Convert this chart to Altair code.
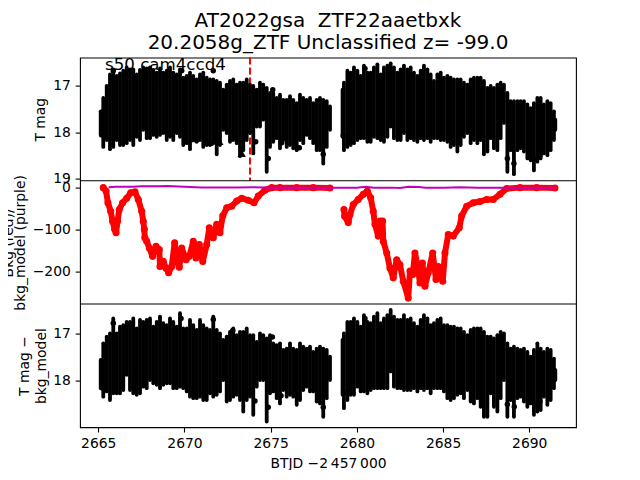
import altair as alt
import pandas as pd

# --- times of the envelope samples ---
t_a = [2665.14,2665.29,2665.49,2665.68,2665.87,2666.07,2666.26,2666.45,2666.65,2666.84,
       2667.03,2667.23,2667.42,2667.61,2667.81,2668.00,2668.19,2668.39,2668.58,2668.77,
       2668.97,2669.16,2669.35,2669.55,2669.74,2669.93,2670.13,2670.32,2670.51,2670.71,
       2670.90,2671.09,2671.29,2671.48,2671.67,2671.87,2672.06,2672.25,2672.45,2672.64,
       2672.83,2673.03,2673.22,2673.41,2673.61,2673.80,2673.99,2674.19,2674.38,2674.57,
       2674.77,2674.96,2675.15,2675.35,2675.54,2675.73,2675.93,2676.12,2676.31,2676.51,
       2676.70,2676.89,2677.09,2677.28,2677.47,2677.67,2677.86,2678.05,2678.25,2678.44]
t_b = [2679.17,2679.25,2679.45,2679.64,2679.83,2680.03,2680.22,2680.41,2680.61,2680.80,
       2680.99,2681.19,2681.38,2681.57,2681.77,2681.96,2682.15,2682.35,2682.54,2682.73,
       2682.93,2683.12,2683.31,2683.51,2683.70,2683.89,2684.09,2684.28,2684.47,2684.67,
       2684.86,2685.05,2685.25,2685.44,2685.63,2685.83,2686.02,2686.21,2686.41,2686.60,
       2686.79,2686.99,2687.18,2687.37,2687.57,2687.76,2687.95,2688.15,2688.34,2688.53,
       2688.73,2688.92,2689.11,2689.31,2689.50,2689.69,2689.89,2690.08,2690.27,2690.47,
       2690.66,2690.85,2691.05,2691.24,2691.43,2691.51]

# --- T mag: bright and faint ends of the error bars ---
mag_hi_a = [17.55,17.26,17.00,16.75,16.64,16.78,16.73,16.67,16.60,16.64,
            16.64,16.75,16.65,16.60,16.62,16.60,16.65,16.71,16.62,16.71,
            16.67,16.60,16.71,16.75,16.64,16.82,16.78,16.71,16.78,16.86,
            16.75,16.71,16.82,16.86,16.86,16.89,16.93,17.08,16.97,16.89,
            16.86,16.97,16.93,16.93,16.86,16.97,17.00,17.08,16.93,16.97,
            17.04,17.15,17.15,17.26,17.19,17.30,17.30,17.22,17.30,17.37,
            17.19,17.26,17.30,17.26,17.37,17.30,17.26,17.30,17.33,17.44]
mag_lo_a = [18.06,18.32,18.17,18.37,18.32,18.17,18.28,18.28,18.24,18.17,
            18.28,18.10,18.17,17.95,18.13,18.13,18.06,18.10,18.06,18.02,
            18.17,18.10,18.17,18.02,18.10,18.28,18.24,18.37,18.17,18.21,
            18.17,18.32,18.28,18.28,18.24,18.48,18.28,17.95,18.02,18.21,
            18.17,18.24,18.52,18.39,18.17,18.02,18.46,17.88,17.88,17.73,
            18.86,18.32,18.21,18.13,18.35,18.17,18.32,18.28,18.35,18.39,
            18.17,18.24,18.06,18.13,18.24,18.39,18.39,18.68,18.32,17.95]
mag_hi_b = [17.08,16.93,16.67,16.71,16.60,16.67,16.78,16.56,16.71,16.71,
            16.60,16.53,16.75,16.60,16.56,16.51,16.60,16.71,16.64,16.56,
            16.64,16.60,16.71,16.78,16.67,16.56,16.64,16.75,16.89,16.75,
            16.71,16.82,16.78,16.82,16.86,16.86,16.86,16.93,16.97,16.86,
            16.82,16.82,16.82,16.89,17.04,17.00,17.04,16.97,16.93,16.97,
            17.15,17.33,17.33,17.33,17.33,17.33,17.40,17.48,17.37,17.26,
            17.26,17.40,17.33,17.37,17.55,17.73]
mag_lo_b = [18.10,18.39,18.32,18.28,18.24,18.17,18.13,18.13,18.21,18.21,
            18.10,18.13,18.17,18.21,18.10,17.88,18.13,18.17,18.17,18.02,
            18.17,18.13,18.17,18.21,18.13,18.17,18.13,18.21,18.13,18.13,
            18.17,18.17,18.21,18.32,18.28,18.42,18.28,18.10,18.02,18.24,
            18.17,18.24,18.17,18.48,18.42,18.13,18.35,18.39,18.13,17.80,
            18.86,18.39,18.91,18.39,18.35,18.42,18.57,18.61,18.83,18.64,
            18.57,18.46,18.50,18.39,18.17,17.95]

# --- T mag - bkg_model ---
sub_hi_a = [17.56,17.21,17.07,17.00,16.69,17.00,16.86,16.83,16.76,16.76,
            16.69,16.90,16.72,16.76,16.72,16.69,16.86,16.76,16.65,16.79,
            16.83,16.69,16.76,16.86,16.58,16.90,16.90,16.72,16.83,16.93,
            16.72,16.83,16.90,16.93,16.65,16.93,17.00,17.14,17.07,16.97,
            16.90,17.04,16.97,16.97,16.90,17.04,17.04,17.18,17.00,17.04,
            17.11,17.04,17.21,17.25,17.21,17.35,17.32,17.21,17.32,17.35,
            17.21,17.28,17.32,17.28,17.39,17.32,17.28,17.32,17.35,17.49]
sub_lo_a = [18.15,18.33,18.22,18.40,18.26,18.26,18.26,18.19,17.87,18.19,
            18.26,18.29,18.26,18.12,18.15,17.98,18.05,18.08,18.15,18.08,
            18.05,18.05,18.15,18.15,18.12,18.15,18.22,18.33,18.36,18.36,
            18.33,18.40,18.40,18.26,18.33,18.29,18.22,17.98,18.43,18.40,
            18.33,18.29,18.40,18.64,18.40,18.33,18.71,18.12,17.98,17.98,
            18.85,18.26,18.22,18.36,18.47,18.19,18.33,18.29,18.33,18.50,
            18.40,18.19,18.12,18.22,18.22,18.43,18.47,18.75,18.36,17.98]
sub_hi_b = [17.14,17.00,16.76,16.76,16.69,16.76,16.86,16.62,16.76,16.79,
            16.65,16.58,16.79,16.69,16.62,16.51,16.65,16.72,16.72,16.62,
            16.72,16.69,16.79,16.86,16.72,16.62,16.69,16.83,16.79,16.72,
            16.69,16.83,16.83,16.86,16.86,16.90,16.90,16.97,17.04,16.93,
            16.90,16.90,16.90,16.97,17.07,17.07,17.11,17.04,16.97,17.00,
            17.21,17.32,17.28,17.32,17.35,17.32,17.39,17.49,17.35,17.21,
            17.32,17.39,17.32,17.35,17.53,17.77]
sub_lo_b = [18.29,18.57,18.40,18.29,18.29,18.12,18.22,18.22,18.26,18.19,
            18.15,18.15,18.15,18.15,18.15,17.80,18.12,18.15,18.15,18.19,
            18.19,18.19,18.15,18.22,18.15,18.19,18.15,18.26,18.15,18.15,
            18.15,18.22,18.36,18.40,18.36,18.29,18.26,18.36,18.19,18.43,
            18.47,18.36,18.54,18.75,18.75,18.26,18.54,18.64,18.36,17.98,
            18.75,18.40,18.75,18.36,18.33,18.43,18.54,18.47,18.71,18.64,
            18.61,18.33,18.50,18.40,18.15,17.98]

# --- isolated points ---
top_pt_t = [2665.87,2669.84,2671.67,2675.12,2674.86,2678.05,2676.66,2675.64,2674.13,2665.20,2665.29,
            2680.47,2688.73,2689.11,2690.33,2690.62,2679.21]
top_pt_m = [16.67,16.67,16.67,17.08,18.57,18.48,18.34,18.23,18.21,18.06,17.55,
            16.62,18.57,18.68,18.59,18.50,18.08]
limit_t = [2673.32,2671.44,2672.02,2670.61]
limit_m = [18.46,18.22,18.20,18.14]
sub_pt_t = [2665.87,2669.80,2671.67,2672.80,2675.10,2674.86,2674.09,2675.60,2676.64,2678.05,2665.25,
            2680.47,2679.25,2688.73,2689.13,2690.33,2690.62]
sub_pt_m = [16.79,16.69,16.71,16.94,17.08,18.55,18.42,18.31,18.36,18.55,18.15,
            16.69,18.24,18.49,18.54,18.50,18.43]

# --- background (red) ---
bkg_t_a = [2665.29,2665.45,2665.56,2665.72,2665.83,2665.95,2666.03,2666.12,2666.22,2666.41,
           2666.65,2666.88,2667.13,2667.32,2667.52,2667.61,2667.67,2667.70,2667.81,2667.96,
           2668.15,2668.35,2668.54,2668.58,2668.77,2668.93,2669.08,2669.26,2669.43,2669.55,
           2669.70,2669.84,2670.09,2670.28,2670.51,2670.67,2670.86,2671.06,2671.29,2671.44,
           2671.67,2671.87,2672.06,2672.22,2672.45,2672.74,2673.03,2673.32,2673.70,2674.03,
           2674.28,2674.67,2675.06,2675.54,2676.51,2677.47,2678.44]
bkg_v_a = [0,-8,-36,-56,-80,-99,-107,-79,-52,-36,
           -25,-12,-10,-28,-56,-80,-99,-119,-127,-143,
           -163,-139,-147,-187,-175,-191,-202,-187,-131,-175,
           -189,-143,-171,-163,-127,-167,-135,-175,-135,-95,
           -119,-87,-107,-67,-48,-44,-32,-25,-30,-36,
           -20,-6,0,0,0,0,-1]
bkg_t_b = [2679.25,2679.29,2679.50,2679.60,2679.79,2680.08,2680.37,2680.61,2680.80,2680.95,
           2681.05,2681.24,2681.34,2681.49,2681.53,2681.73,2681.92,2682.11,2682.31,2682.50,
           2682.69,2682.98,2683.08,2683.24,2683.37,2683.51,2683.66,2683.80,2683.95,2684.14,
           2684.40,2684.59,2684.72,2684.98,2685.11,2685.30,2685.59,2685.94,2686.08,2686.37,
           2686.75,2687.14,2687.53,2687.91,2688.30,2688.69,2689.46,2690.43,2691.49]
bkg_v_b = [-52,-68,-83,-64,-40,-28,-16,-8,-24,-56,
           -87,-115,-79,-79,-127,-155,-191,-214,-171,-183,
           -222,-262,-198,-206,-155,-183,-226,-179,-234,-202,
           -155,-218,-187,-222,-155,-111,-115,-95,-67,-44,
           -36,-33,-28,-28,-16,-2,0,0,-1]

# --- background model (purple) ---
model_t = [2665.6,2666.0,2667.0,2667.5,2668.5,2669.0,2670.0,2671.0,2672.0,2673.0,2674.0,
           2675.0,2676.0,2677.0,2678.0,2679.0,2680.0,2680.5,2681.0,2682.0,2682.5,2683.0,
           2683.6,2684.0,2685.0,2686.0,2687.0,2688.0,2689.0,2690.0,2691.5]
model_v = [1,2,2,3,3,4,2,0.5,0.5,0.5,1,
           0,0.5,0,0,0,0,2,0,0,-1,2,
           1.5,0,0,1,0,0,0,0,0]

title_lines = ["AT2022gsa \u00a0ZTF22aaetbxk", "20.2058g_ZTF Unclassified z= -99.0"]
sector_label = "s50 cam4ccd4"
sector_t, sector_m = 2665.39, 16.66
marker_t = 2673.80
x_ticks = [2665, 2670, 2675, 2680, 2685, 2690]

W, H = 496, 369.6
P = H / 3
X_DOM = [2663.94, 2692.71]
TOP = dict(domain=[16.385, 19.054], range=[0, P])
MID = dict(domain=[16.2, -276.0], range=[P, 2 * P])
BOT = dict(domain=[16.386, 18.969], range=[2 * P, 3 * P])

bars_top = pd.DataFrame({"t": t_a + t_b, "a": mag_hi_a + mag_hi_b, "b": mag_lo_a + mag_lo_b})
bars_bot = pd.DataFrame({"t": t_a + t_b, "a": sub_hi_a + sub_hi_b, "b": sub_lo_a + sub_lo_b})
pts_top = pd.DataFrame({"t": top_pt_t, "m": top_pt_m})
pts_bot = pd.DataFrame({"t": sub_pt_t, "m": sub_pt_m})
lims = pd.DataFrame({"t": limit_t, "m": limit_m})
bkg_a = pd.DataFrame({"t": bkg_t_a, "v": bkg_v_a})
bkg_b = pd.DataFrame({"t": bkg_t_b, "v": bkg_v_b})
model = pd.DataFrame({"t": model_t, "v": model_v})

AX = dict(domain=False, grid=False, labelFontSize=13.9, titleFontSize=13.9, tickSize=4.86,
          tickWidth=1.1, tickColor="black", labelColor="black", titleColor="black",
          labelPadding=4.86, titleFontWeight="normal", labelOverlap=False)

x_enc = alt.X("t:Q", scale=alt.Scale(domain=X_DOM, nice=False, zero=False),
              axis=alt.Axis(values=x_ticks, format="d", title="BTJD \u22122\u2009457\u2009000",
                            titlePadding=6, **AX))


def y_enc(field, spec, axis=None):
    return alt.Y(field, scale=alt.Scale(nice=False, zero=False, **spec), axis=axis)


def y_axis(values, title, tx, ty, lh=16.7):
    return alt.Axis(values=values, format="d", orient="left", title=title, titleX=tx, titleY=ty,
                    titleAngle=-90, titleAlign="center", titleBaseline="bottom",
                    titleLineHeight=lh, **AX)


marker = alt.Chart(pd.DataFrame({"t": [marker_t]})).mark_rule(
    color="red", strokeWidth=2, strokeDash=[7, 3]
).encode(x=x_enc, y=alt.value(0), y2=alt.value(P))

top_bars = alt.Chart(bars_top).mark_rule(color="black", strokeWidth=3.8, strokeCap="round").encode(
    x=x_enc,
    y=y_enc("a:Q", TOP, y_axis([17, 18, 19], "T mag", -33, P / 2)),
    y2="b:Q",
)
top_pts = alt.Chart(pts_top).mark_point(color="black", filled=True, opacity=1, size=30).encode(
    x=x_enc, y=y_enc("m:Q", TOP))
top_lim = alt.Chart(lims).mark_point(color="black", filled=True, opacity=1, size=70, shape="triangle-up").encode(
    x=x_enc, y=y_enc("m:Q", TOP))
label = alt.Chart(pd.DataFrame({"t": [sector_t], "m": [sector_m], "s": [sector_label]})).mark_text(
    color="black", fontSize=16.67, align="left", baseline="alphabetic"
).encode(x=x_enc, y=y_enc("m:Q", TOP), text="s:N")

mid_a = alt.Chart(bkg_a).mark_line(color="red", strokeWidth=6, strokeJoin="round", strokeCap="round").encode(
    x=x_enc,
    y=y_enc("v:Q", MID, y_axis([0, -100, -200], ["Bkg (red)/", "bkg_model (purple)"], -65, P * 1.5, 12)),
)
mid_a_p = alt.Chart(bkg_a).mark_point(color="red", filled=True, opacity=1, size=50).encode(
    x=x_enc, y=y_enc("v:Q", MID))
mid_b = alt.Chart(bkg_b).mark_line(color="red", strokeWidth=6, strokeJoin="round", strokeCap="round").encode(
    x=x_enc, y=y_enc("v:Q", MID))
mid_b_p = alt.Chart(bkg_b).mark_point(color="red", filled=True, opacity=1, size=50).encode(
    x=x_enc, y=y_enc("v:Q", MID))
mid_m = alt.Chart(model).mark_line(color="#c000c0", strokeWidth=2).encode(x=x_enc, y=y_enc("v:Q", MID))

bot_bars = alt.Chart(bars_bot).mark_rule(color="black", strokeWidth=3.8, strokeCap="round").encode(
    x=x_enc,
    y=y_enc("a:Q", BOT, y_axis([17, 18], ["T mag \u2212", "bkg_model"], -49, P * 2.5, 18)),
    y2="b:Q",
)
bot_pts = alt.Chart(pts_bot).mark_point(color="black", filled=True, opacity=1, size=30).encode(
    x=x_enc, y=y_enc("m:Q", BOT))

sep1 = alt.Chart(pd.DataFrame({"k": [1]})).mark_rule(color="black", strokeWidth=1.1).encode(y=alt.value(P))
sep2 = alt.Chart(pd.DataFrame({"k": [1]})).mark_rule(color="black", strokeWidth=1.1).encode(y=alt.value(2 * P))

chart = alt.layer(
    marker, top_bars, top_pts, top_lim, mid_a, mid_a_p, mid_b, mid_b_p, mid_m,
    bot_bars, bot_pts, sep1, sep2, label,
).resolve_scale(y="independent").properties(
    width=W,
    height=H,
    padding={"left": 72, "top": 49.6, "right": 40, "bottom": 43},
    autosize=alt.AutoSizeParams(type="none"),
    title=alt.TitleParams(text=title_lines, fontSize=20, fontWeight="normal", anchor="middle",
                          offset=4, lineHeight=22, color="black"),
).configure(font="DejaVu Sans").configure_view(stroke="black", strokeWidth=1.1)

chart.save("out.html", embed_options={"renderer": "svg", "actions": False})
